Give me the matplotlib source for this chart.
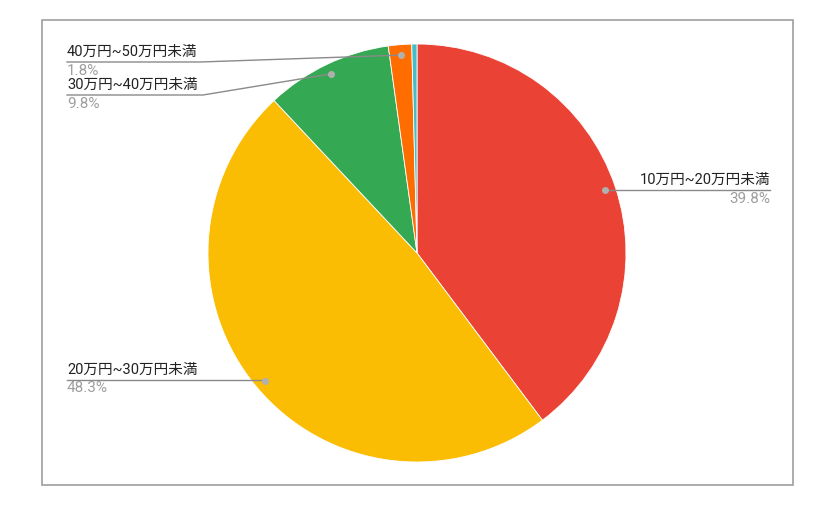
import numpy as np
import matplotlib.pyplot as plt

plt.rcParams['font.family'] = ['Roboto', 'Noto Sans CJK JP', 'DejaVu Sans']

# データ（時計回り、上から）
categories = ["10万円~20万円未満", "20万円~30万円未満", "30万円~40万円未満", "40万円~50万円未満", "50万円以上"]
shares = [39.8, 48.3, 9.8, 1.8, 0.4]
colors = ["#EA4335", "#FBBC04", "#34A853", "#FF6D01", "#46BDC6"]

W, H = 839, 511
fig = plt.figure(figsize=(W / 100, H / 100), dpi=100)
ax = fig.add_axes([0, 0, 1, 1])

def py(y):  # pixel y (top-down) -> data y
    return H - y

cx, cy, r = 417, py(253), 209
wedges, _ = ax.pie(shares, colors=colors, startangle=90, counterclock=False,
                   center=(cx, cy), radius=r,
                   wedgeprops=dict(edgecolor="white", linewidth=0.6))
ax.set_xlim(0, W)
ax.set_ylim(0, H)
ax.set_aspect("equal")
ax.axis("off")

# 外枠
ax.add_patch(plt.Rectangle((42, py(485)), 793 - 42, 485 - 20, fill=False,
                           edgecolor="#9e9e9e", linewidth=1.2))

# ラベル配置: (テキストx, 線のy, 揃え, 横線の終端x)
label_pos = {
    0: (770, 190, "right", None),
    1: (67, 380, "left", None),
    2: (67, 95, "left", 203),
    3: (67, 62, "left", 200),
}

line_c = "#8a8a8a"
for i, (tx, ly, ha, knee) in label_pos.items():
    w = wedges[i]
    ang = np.deg2rad((w.theta1 + w.theta2) / 2)
    dx = cx + 0.95 * r * np.cos(ang)
    dy = cy + 0.95 * r * np.sin(ang)
    y = py(ly)
    if knee is None:
        ax.plot([tx, dx], [y, y], color=line_c, lw=1, zorder=3)
    else:
        ax.plot([tx, knee, dx], [y, y, dy], color=line_c, lw=1, zorder=3)
    ax.plot(dx, dy, "o", color="#b0b0b0", markersize=4, zorder=4)
    ax.text(tx, y + 3, categories[i], ha=ha, va="bottom", fontsize=10.5, color="#222222")
    ax.text(tx, y - 1.5, f"{shares[i]}%", ha=ha, va="top", fontsize=11, color="#9e9e9e")

fig.savefig("out.png", dpi=100, facecolor="white")
